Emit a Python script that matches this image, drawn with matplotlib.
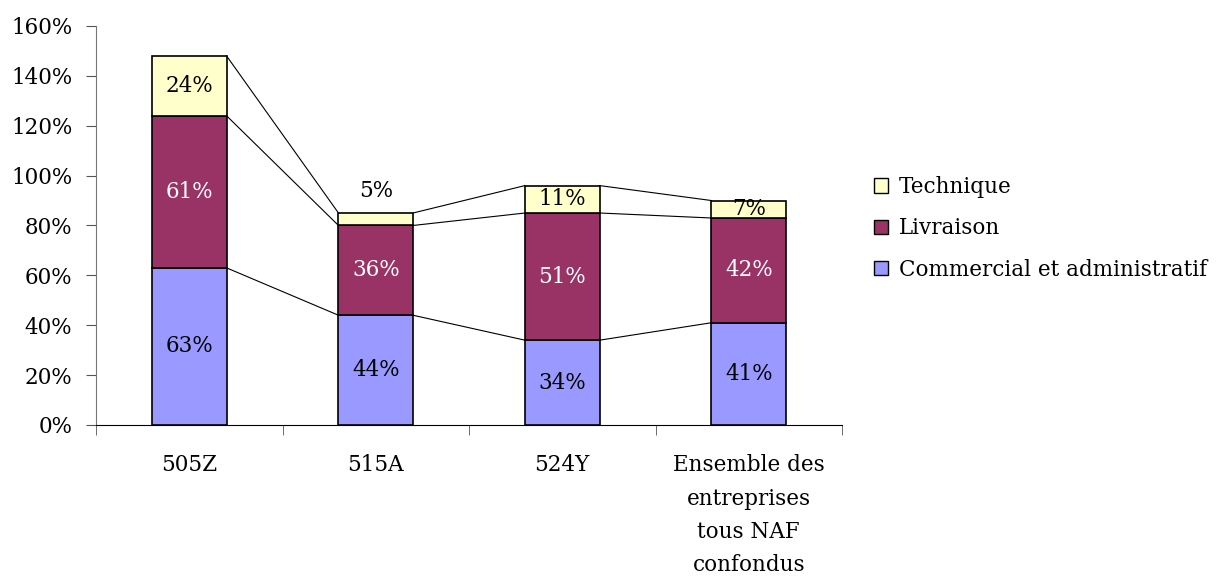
import numpy as np
import matplotlib.pyplot as plt
from matplotlib.patches import Patch

categories = ['505Z', '515A', '524Y', 'Ensemble des\nentreprises\ntous NAF\nconfondus']
commercial = [63, 44, 34, 41]
livraison = [61, 36, 51, 42]
technique = [24, 5, 11, 7]

series = [
    ('Commercial et administratif', commercial, '#9999FF', 'black'),
    ('Livraison', livraison, '#993366', 'white'),
    ('Technique', technique, '#FFFFCC', 'black'),
]

plt.rcParams['font.family'] = ['DejaVu Serif']
FS = 15.5

fig = plt.figure(figsize=(12.23, 5.76), dpi=100)
ax = fig.add_axes([0.0785, 0.2622, 0.61, 0.6927])

x = np.arange(len(categories))
width = 0.4
bottom = np.zeros(len(categories))

for name, vals, color, txt in series:
    vals = np.array(vals, dtype=float)
    ax.bar(x, vals, width, bottom=bottom, color=color, edgecolor='black',
           linewidth=1.2, label=name, zorder=3)
    top = bottom + vals
    # series lines between neighbouring bars
    for i in range(len(x) - 1):
        ax.plot([x[i] + width / 2, x[i + 1] - width / 2], [top[i], top[i + 1]],
                color='black', linewidth=0.8, zorder=2)
    for i, v in enumerate(vals):
        if v < 6:
            ypos = top[i] + 9
            c = 'black'
        else:
            ypos = bottom[i] + v / 2
            c = txt
        ax.text(x[i], ypos, f'{v:.0f}%', ha='center', va='center',
                fontsize=FS, color=c, zorder=4)
    bottom = top

ax.set_xlim(-0.5, len(categories) - 0.5)
ax.set_ylim(0, 160)
ax.set_yticks(np.arange(0, 161, 20))
ax.set_yticklabels([f'{v}%' for v in range(0, 161, 20)], fontsize=FS)
ax.set_xticks(x)
ax.set_xticklabels(categories, fontsize=FS, linespacing=1.67)
ax.set_xticks(np.arange(-0.5, len(categories), 1), minor=True)
ax.tick_params(axis='x', which='major', length=0, pad=21)
ax.tick_params(axis='x', which='minor', length=7, direction='out', color='#555555')
ax.tick_params(axis='y', length=7, direction='out', color='#555555', pad=10)

for s in ['top', 'right']:
    ax.spines[s].set_visible(False)
ax.spines['left'].set_color('#777777')
ax.spines['bottom'].set_color('black')

handles = [Patch(facecolor=c, edgecolor='black', label=n) for n, _, c, _ in series[::-1]]
fig.legend(handles=handles, loc='upper left', bbox_to_anchor=(0.699, 0.728),
           frameon=False, fontsize=FS, handlelength=0.65, handleheight=0.65,
           handletextpad=0.5, labelspacing=0.9)

fig.savefig('out.png', dpi=100)
